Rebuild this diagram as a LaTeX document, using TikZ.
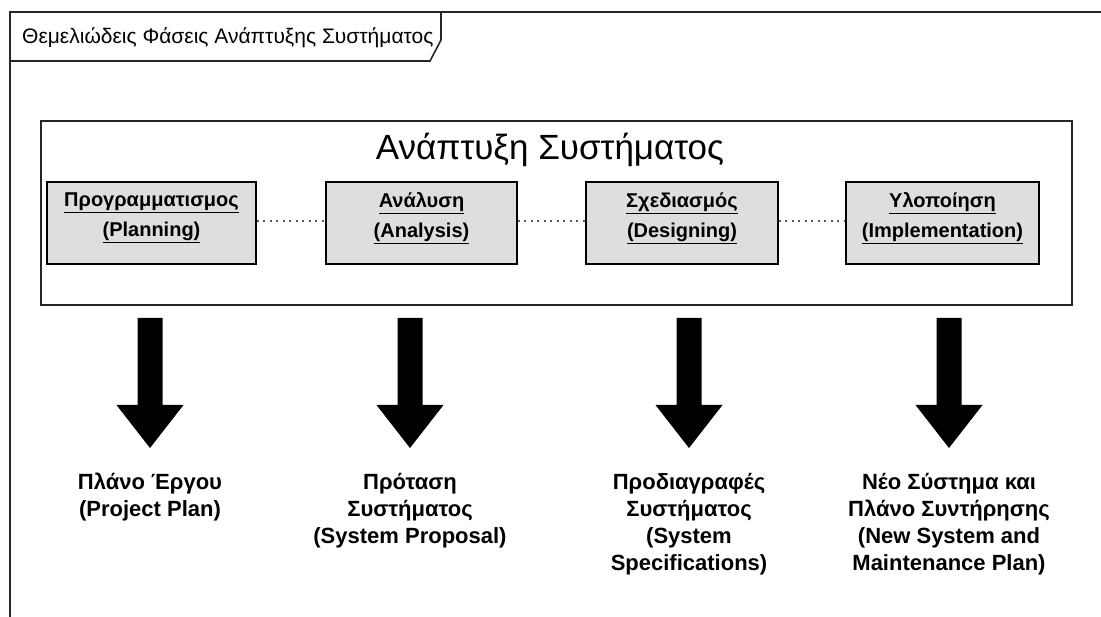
\documentclass[tikz,border=0pt]{standalone}
\usepackage{fontspec}
\setmainfont{Liberation Sans}
\begin{document}
\begin{tikzpicture}[x=1pt,y=-1pt,
  frameline/.style={line width=1.6pt, draw=black!85},
  phase/.style={draw=black, line width=1.6pt, fill=black!13,
    minimum width=#1, minimum height=82pt, inner sep=0pt},
  phasetext/.style={align=center, inner sep=0pt,
    font=\fontsize{20}{30}\selectfont\bfseries},
  outtext/.style={align=center, anchor=north, inner sep=0pt,
    font=\fontsize{22}{27}\selectfont\bfseries},
  linkline/.style={draw=black!65, line width=1.3pt, dash pattern=on 2pt off 4.5pt},
  blockarrow/.style={fill=black}]
\useasboundingbox (0,0) rectangle (1101,617);

% outer frame with its name tab
\draw[frameline] (10,617) -- (10,12) -- (1101,12);
\draw[frameline] (441,12) -- (441,40) -- (430,61) -- (10,61);
\node[anchor=base west, inner sep=0pt, font=\fontsize{21}{25}\selectfont]
  (tab) at (22,44) {Θεμελιώδεις Φάσεις Ανάπτυξης Συστήματος};

% system development block
\node[frameline, draw, minimum width=1031pt, minimum height=184pt,
  anchor=north west, inner sep=0pt] (dev) at (40,120) {};
\node[anchor=base, inner sep=0pt, font=\fontsize{35}{40}\selectfont]
  (devtitle) at (550,160) {Ανάπτυξη Συστήματος};

% the four phases
\node[phase=209pt] (p1) at (151.5,223) {};
\node[phase=191pt] (p2) at (421.5,223) {};
\node[phase=192pt] (p3) at (682,223) {};
\node[phase=193pt] (p4) at (942.5,223) {};
\node[phasetext] (p1t) at ([yshift=5pt]p1.center) {\underline{Προγραμματισμος}\\\underline{(Planning)}};
\node[phasetext] (p2t) at ([yshift=5pt]p2.center) {\underline{Ανάλυση}\\\underline{(Analysis)}};
\node[phasetext] (p3t) at ([yshift=5pt]p3.center) {\underline{Σχεδιασμός}\\\underline{(Designing)}};
\node[phasetext] (p4t) at ([yshift=5pt]p4.center) {\underline{Υλοποίηση}\\\underline{(Implementation)}};

% dotted links between consecutive phases
\draw[linkline] ([yshift=2pt]p1.east) -- ([yshift=2pt]p2.west);
\draw[linkline] ([yshift=2pt]p2.east) -- ([yshift=2pt]p3.west);
\draw[linkline] ([yshift=2pt]p3.east) -- ([yshift=2pt]p4.west);

% block arrows leading to the deliverables
\foreach \ax in {150,410,689,949} {
  \fill[blockarrow] ({\ax-12.5},318) -- ({\ax+12.5},318) -- ({\ax+12.5},405)
    -- ({\ax+33.5},405) -- (\ax,448) -- ({\ax-33.5},405) -- ({\ax-12.5},405) -- cycle;
}

% deliverables
\node[outtext] (o1) at (150,473) {Πλάνο Έργου\\(Project Plan)};
\node[outtext] (o2) at (410,473) {Πρόταση\\Συστήματος\\(System Proposal)};
\node[outtext] (o3) at (689,473) {Προδιαγραφές\\Συστήματος\\(System\\Specifications)};
\node[outtext] (o4) at (949,473) {Νέο Σύστημα και\\Πλάνο Συντήρησης\\(New System and\\Maintenance Plan)};
\end{tikzpicture}
\end{document}
